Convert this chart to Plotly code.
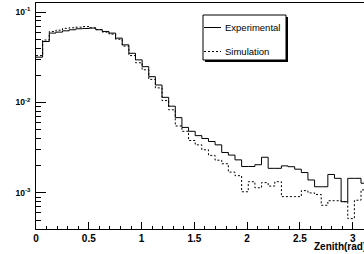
import numpy as np
import plotly.graph_objects as go

# ---- data ----
n_bins = 50
x_min, x_max = 0.0, np.pi

experimental = [
    0.0317, 0.0472, 0.0585, 0.0600, 0.0620, 0.0637, 0.0653, 0.0658, 0.0665, 0.0637,
    0.0610, 0.0585, 0.0515, 0.0434, 0.0350, 0.0296, 0.0249, 0.0193, 0.0156, 0.0114,
    0.0091, 0.0068, 0.0053, 0.0048, 0.0043, 0.0040, 0.0037, 0.0034, 0.0028, 0.00262,
    0.00232, 0.00196, 0.00196, 0.00205, 0.00248, 0.00187, 0.00187, 0.00199, 0.00195, 0.00183,
    0.00168, 0.00139, 0.00117, 0.00117, 0.00160, 0.00145, 0.00080, 0.00145, 0.00145, 0.00128,
]
simulation = [
    0.0330, 0.0490, 0.0610, 0.0630, 0.0660, 0.0670, 0.0680, 0.0690, 0.0670, 0.0640,
    0.0600, 0.0570, 0.0500, 0.0420, 0.0330, 0.0275, 0.0230, 0.0180, 0.0145, 0.0105,
    0.0083, 0.0055, 0.0048, 0.0038, 0.0034, 0.0030, 0.0026, 0.0023, 0.0021, 0.0017,
    0.00155, 0.00103, 0.00133, 0.00114, 0.00130, 0.00119, 0.00133, 0.00091, 0.00091, 0.00091,
    0.00106, 0.00100, 0.00096, 0.00073, 0.00082, 0.00082, 0.00080, 0.00052, 0.00083, 0.00108,
]
series_names = ["Experimental", "Simulation"]

x_tick_vals = [0, 0.5, 1, 1.5, 2, 2.5, 3]
x_tick_text = ["0", "0.5", "1", "1.5", "2", "2.5", "3"]
y_tick_vals = [1e-3, 1e-2, 1e-1]
y_tick_text = ["10<sup>-3</sup>", "10<sup>-2</sup>", "10<sup>-1</sup>"]
x_title = "Zenith(rad)"

# ---- geometry helpers ----
W, H = 364, 254
ML, MR, MT, MB = 36, 0, 3, 25
PW, PH = W - ML - MR, H - MT - MB


def px(x):
    return (x - ML) / PW


def py(y):
    return (H - MB - y) / PH


edges = np.linspace(x_min, x_max, n_bins + 1)


def steps(vals):
    return list(vals) + [vals[-1]]


font_family = "Liberation Sans, Arial, Helvetica, sans-serif"

fig = go.Figure()
fig.add_trace(go.Scatter(
    x=edges, y=steps(experimental), mode="lines", line_shape="hv",
    line=dict(color="black", width=1), name=series_names[0], showlegend=False,
))
fig.add_trace(go.Scatter(
    x=edges, y=steps(simulation), mode="lines", line_shape="hv",
    line=dict(color="black", width=1, dash="2px,2px"), name=series_names[1], showlegend=False,
))

# legend box with shadow (ROOT style)
shapes = [
    dict(type="rect", xref="paper", yref="paper", x0=px(205), x1=px(288), y0=py(62), y1=py(17),
         fillcolor="black", line=dict(width=0), layer="above"),
    dict(type="rect", xref="paper", yref="paper", x0=px(203), x1=px(286), y0=py(60), y1=py(15),
         fillcolor="white", line=dict(color="black", width=1), layer="above"),
    dict(type="line", xref="paper", yref="paper", x0=px(204), x1=px(221), y0=py(27.5), y1=py(27.5),
         line=dict(color="black", width=1), layer="above"),
    dict(type="line", xref="paper", yref="paper", x0=px(204), x1=px(221), y0=py(51.5), y1=py(51.5),
         line=dict(color="black", width=1, dash="2px,2px"), layer="above"),
]
annotations = [
    dict(text=series_names[0], xref="paper", yref="paper", x=px(223), y=py(27.5),
         xanchor="left", yanchor="middle", showarrow=False,
         font=dict(family=font_family, size=9.5, color="black")),
    dict(text=series_names[1], xref="paper", yref="paper", x=px(223), y=py(51.5),
         xanchor="left", yanchor="middle", showarrow=False,
         font=dict(family=font_family, size=9.5, color="black")),
    dict(text=x_title, xref="paper", yref="paper", x=px(368), y=py(246),
         xanchor="right", yanchor="middle", showarrow=False,
         font=dict(family=font_family, size=10, color="black", weight="bold")),
]

x_end = (W - ML - MR) / ((352.7 - 36) / 3.0)

fig.update_layout(
    width=W, height=H,
    margin=dict(l=ML, r=MR, t=MT, b=MB, pad=0),
    paper_bgcolor="white", plot_bgcolor="white",
    showlegend=False,
    shapes=shapes, annotations=annotations,
    xaxis=dict(
        range=[0, x_end], showgrid=False, zeroline=False,
        showline=True, linecolor="black", linewidth=1, mirror=True,
        ticks="inside", ticklen=7, tickcolor="black", tickwidth=1,
        tickvals=x_tick_vals, ticktext=x_tick_text,
        tickfont=dict(family=font_family, size=10, color="black", weight="bold"),
        minor=dict(ticks="inside", ticklen=3.5, dtick=0.1, tickcolor="black", showgrid=False),
    ),
    yaxis=dict(
        type="log", range=[-3.399, -0.900], showgrid=False, zeroline=False,
        showline=True, linecolor="black", linewidth=1, mirror=False,
        ticks="inside", ticklen=10, tickcolor="black", tickwidth=1,
        tickvals=y_tick_vals, ticktext=y_tick_text,
        tickfont=dict(family=font_family, size=8.5, color="black", weight="bold"),
        ticklabelstandoff=3,
        minor=dict(ticks="inside", ticklen=5, dtick="D1", tickcolor="black", showgrid=False),
    ),
)

fig.write_html(
    "out.html",
    config={"displayModeBar": False},
    post_script="document.body.style.margin='0';document.body.style.overflow='hidden';",
)
